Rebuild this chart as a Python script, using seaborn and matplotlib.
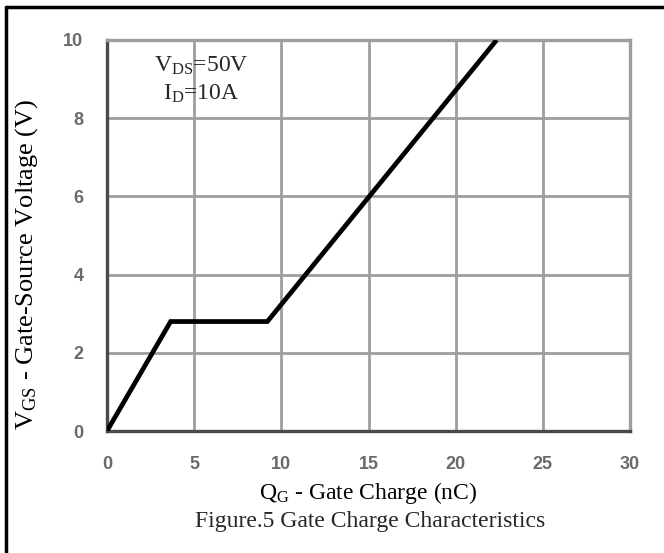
import matplotlib
matplotlib.use("Agg")
import matplotlib.pyplot as plt
import seaborn as sns
import pandas as pd
from matplotlib.lines import Line2D

# Data
gate_charge_nc = [0.0, 3.65, 9.2, 22.35]
vgs_volts = [0.0, 2.8, 2.8, 10.0]
x_ticks = [0, 5, 10, 15, 20, 25, 30]
y_ticks = [0, 2, 4, 6, 8, 10]

sns.set_theme(style="white")
plt.rcParams['font.family'] = ['Liberation Serif', 'DejaVu Serif']
plt.rcParams['mathtext.fontset'] = 'custom'
plt.rcParams['mathtext.rm'] = 'Liberation Serif'
plt.rcParams['mathtext.it'] = 'Liberation Serif:italic'

df = pd.DataFrame({"Q": gate_charge_nc, "V": vgs_volts})

fig = plt.figure(figsize=(6.64, 5.53), dpi=100)
ax = fig.add_axes([107/664, 1-431/553, (630-107)/664, (431-40)/553])

grid_col = "#9e9e9e"
for t in x_ticks[1:-1]:
    ax.axvline(t, color=grid_col, lw=2.0, zorder=1)
for t in y_ticks[1:-1]:
    ax.axhline(t, color=grid_col, lw=2.0, zorder=1)

sns.lineplot(data=df, x="Q", y="V", ax=ax, color="black", lw=3.4,
             zorder=3, solid_joinstyle="miter", solid_capstyle="butt", sort=False)

ax.set_xlim(0, 30)
ax.set_ylim(0, 10)
ax.set_xticks(x_ticks)
ax.set_yticks(y_ticks)
ax.set_xticklabels([str(t) for t in x_ticks], family="Liberation Sans",
                   fontweight="bold", color="#6a6a6a", fontsize=13)
ax.set_yticklabels([str(t) for t in y_ticks], family="Liberation Sans",
                   fontweight="bold", color="#6a6a6a", fontsize=13)
ax.tick_params(axis="x", length=0, pad=18)
ax.tick_params(axis="y", length=0, pad=17)

for side in ["left", "bottom"]:
    ax.spines[side].set_color("#4a4a4a")
    ax.spines[side].set_linewidth(2.4)
for side in ["top", "right"]:
    ax.spines[side].set_color(grid_col)
    ax.spines[side].set_linewidth(2.4)

ax.set_xlabel(r"Q$_{\rm G}$ - Gate Charge (nC)", fontsize=17, color="black")
ax.xaxis.label.set_va("center")
ax.xaxis.set_label_coords(0.5, (431-493)/391)
ax.set_ylabel(r"V$_{\rm GS}$ - Gate-Source Voltage (V)", fontsize=19, color="black")
ax.yaxis.label.set_va("center")
ax.yaxis.set_label_coords((27-107)/523, (431-264)/391)

ax.text(0.18, 0.962, "V$_{\\rm DS}$=50V\nI$_{\\rm D}$=10A", transform=ax.transAxes,
        ha="center", va="top", fontsize=17, linespacing=1.35)

fig.text(370/664, 1-522/553, "Figure.5 Gate Charge Characteristics", ha="center",
         va="center", fontsize=17)

# frame lines (top and left border)
fig.add_artist(Line2D([6/664, 1], [1-7/553, 1-7/553], color="black", lw=2.5,
                      transform=fig.transFigure))
fig.add_artist(Line2D([6/664, 6/664], [0, 1-7/553], color="black", lw=2.5,
                      transform=fig.transFigure))

fig.savefig("out.png", dpi=100)
